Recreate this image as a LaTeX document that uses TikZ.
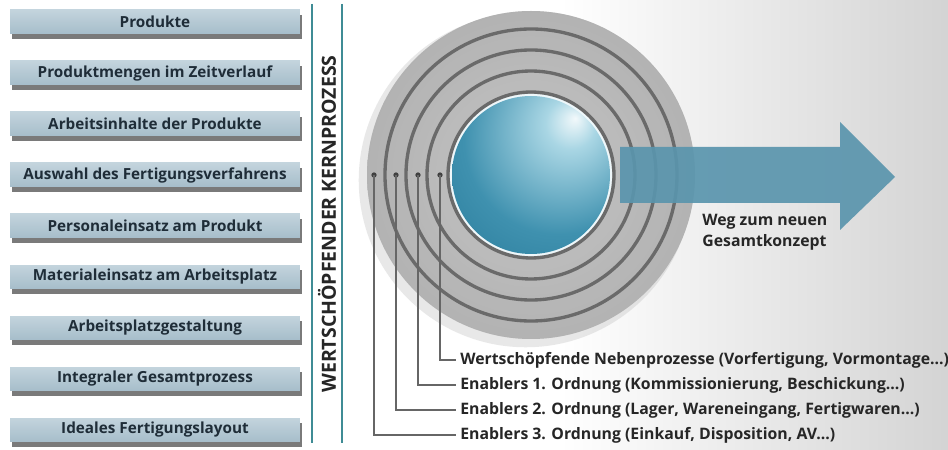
\documentclass[tikz,border=0pt]{standalone}
\usepackage{fontspec}
\setmainfont{Open Sans}
\usetikzlibrary{shadows,positioning}
\definecolor{boxtop}{HTML}{C3D4DD}
\definecolor{boxbot}{HTML}{A6BDCA}
\definecolor{boxtxt}{HTML}{1F2D38}
\definecolor{tealline}{HTML}{3F8C95}
\definecolor{discgray}{HTML}{C0C0C0}
\definecolor{ringgray}{HTML}{6A6A6A}
\definecolor{arrowblue}{HTML}{5A95AD}
\definecolor{sphA}{HTML}{A9D6E4}
\definecolor{sphB}{HTML}{3F91AF}
\definecolor{sphC}{HTML}{1D6F8F}
\pgfdeclareradialshading{sphereshade}{\pgfpoint{14bp}{18bp}}{%
 color(0bp)=(white!85!sphA); color(8bp)=(sphA); color(30bp)=(sphB);
 color(58bp)=(sphC); color(80bp)=(sphC)}
\tikzset{
 factorbox/.style={draw=none, top color=boxtop, bottom color=boxbot,
  minimum width=5.8cm, minimum height=0.48cm, inner sep=0pt,
  font=\fontsize{8.7}{10}\selectfont\bfseries, text=boxtxt,
  drop shadow={shadow xshift=1.2pt, shadow yshift=-2.6pt, fill=black!80, opacity=.65}},
 levellabel/.style={anchor=west, inner sep=0pt, text=black!85,
  font=\fontsize{9}{10}\selectfont\bfseries},
 conn/.style={draw=black!60, line width=0.7pt},
 ringdot/.style={circle, fill=black!75, inner sep=0pt, minimum size=3pt},
}
\begin{document}
\begin{tikzpicture}[x=0.02cm,y=0.02cm]
 \useasboundingbox (0,0) rectangle (948,450);
 \fill[white] (0,0) rectangle (948,450);
 \shade[left color=white, right color=black!17] (560,0) rectangle (948,450);
 %
 % left column
 \foreach \name/\txt [count=\i from 0] in {
   prod/Produkte,
   menge/Produktmengen im Zeitverlauf,
   inhalt/Arbeitsinhalte der Produkte,
   verf/Auswahl des Fertigungsverfahrens,
   pers/Personaleinsatz am Produkt,
   mat/Materialeinsatz am Arbeitsplatz,
   platz/Arbeitsplatzgestaltung,
   integ/Integraler Gesamtprozess,
   layout/Ideales Fertigungslayout}
  \node[factorbox] (\name) at (155,{428-51*\i}) {\txt};
 %
 \draw[tealline, line width=1.1pt] (312,446) -- (312,7);
 \draw[tealline, line width=1.1pt] (342,446) -- (342,7);
 \node[rotate=90, text=black!85, font=\fontsize{11.1}{12}\selectfont\bfseries]
  (kern) at (327,226) {WERTSCHÖPFENDER KERNPROZESS};
 %
 % rings
 \coordinate (m) at (531,275);
 \fill[black!35, opacity=.25] ([xshift=-3,yshift=-3]m) circle (167);
 \fill[discgray] (m) circle (164);
 \shade[inner color=discgray!80!white, outer color=discgray!85!black, opacity=.45] (m) circle (164);
 \foreach \r in {146,125,104,83}
  \draw[ringgray, line width=1.9pt] (m) circle (\r);
 \fill[white!80!sphA] (m) circle (81);
 \shade[shading=sphereshade] (m) circle (79);
 %
 % arrow
 \fill[arrowblue, opacity=.92] (620,303) -- (840,303) -- (840,328) -- (895,273)
  -- (840,220) -- (840,247) -- (620,247) -- cycle;
 \node[anchor=north west, align=left, inner sep=0pt, text=black!85,
  font=\fontsize{9}{12}\selectfont\bfseries] (weg) at (702,236)
  {Weg zum neuen\\Gesamtkonzept};
 %
 % levels
 \node[ringdot] (d1) at (440,275) {};
 \node[ringdot] (d2) at (418,275) {};
 \node[ringdot] (d3) at (396,275) {};
 \node[ringdot] (d4) at (374,275) {};
 \node[levellabel] (l1) at (460,90) {Wertschöpfende Nebenprozesse (Vorfertigung, Vormontage...)};
 \node[levellabel] (l2) at (460,65) {Enablers 1. Ordnung (Kommissionierung, Beschickung...)};
 \node[levellabel] (l3) at (460,40) {Enablers 2. Ordnung (Lager, Wareneingang, Fertigwaren...)};
 \node[levellabel] (l4) at (460,15) {Enablers 3. Ordnung (Einkauf, Disposition, AV...)};
 \foreach \k in {1,...,4}
  \draw[conn] (d\k.center) |- ([xshift=-2pt]l\k.west);
\end{tikzpicture}
\end{document}
